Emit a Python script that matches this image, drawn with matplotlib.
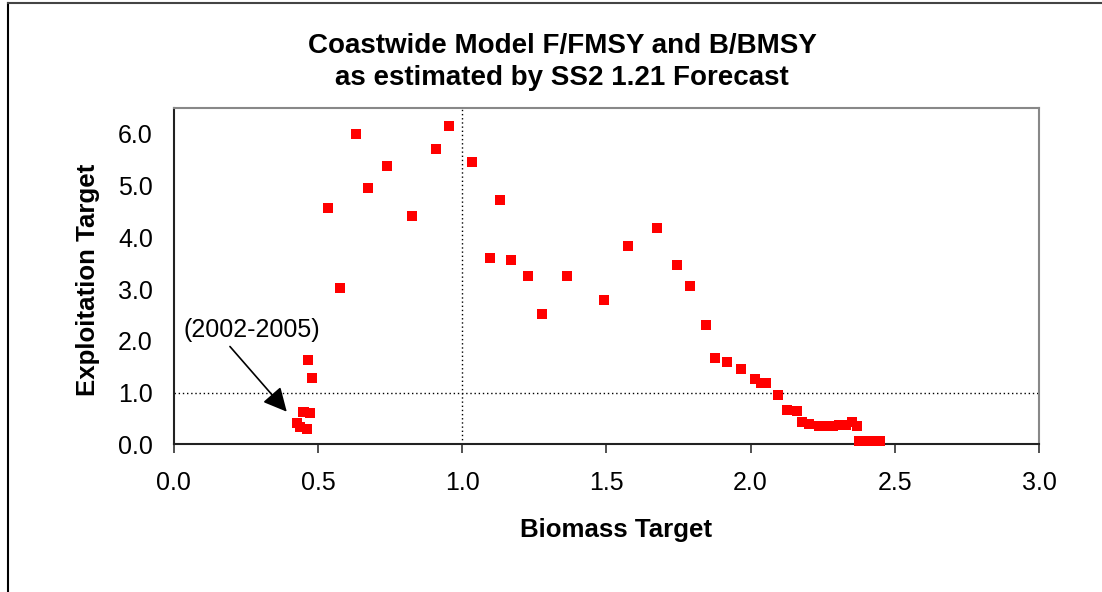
import matplotlib
matplotlib.use("Agg")
import matplotlib.pyplot as plt
from matplotlib.lines import Line2D

plt.rcParams['font.family'] = ['Liberation Sans', 'DejaVu Sans']

biomass = [0.429, 0.438, 0.462, 0.450, 0.474, 0.467, 0.480, 0.534, 0.577, 0.632,
           0.675, 0.741, 0.827, 0.911, 0.955, 1.033, 1.095, 1.131, 1.168, 1.228,
           1.278, 1.362, 1.491, 1.576, 1.674, 1.746, 1.789, 1.844, 1.875, 1.917,
           1.966, 2.014, 2.036, 2.055, 2.094, 2.126, 2.161, 2.180, 2.203, 2.238,
           2.261, 2.285, 2.308, 2.331, 2.351, 2.369, 2.375, 2.390, 2.405, 2.420,
           2.435, 2.450]
exploitation = [0.41, 0.34, 0.30, 0.63, 0.61, 1.63, 1.29, 4.56, 3.02, 5.99,
                4.96, 5.38, 4.42, 5.71, 6.16, 5.45, 3.61, 4.73, 3.57, 3.26,
                2.52, 3.26, 2.79, 3.84, 4.19, 3.47, 3.06, 2.31, 1.66, 1.60,
                1.46, 1.26, 1.19, 1.19, 0.95, 0.67, 0.65, 0.43, 0.39, 0.35,
                0.35, 0.35, 0.37, 0.37, 0.43, 0.35, 0.06, 0.06, 0.06, 0.06,
                0.06, 0.06]

x_ticks = [0.0, 0.5, 1.0, 1.5, 2.0, 2.5, 3.0]
y_ticks = [0.0, 1.0, 2.0, 3.0, 4.0, 5.0, 6.0]

title_lines = ["Coastwide Model F/FMSY and B/BMSY", "as estimated by SS2 1.21 Forecast"]
annot_text = "(2002-2005)"

W, H = 1102, 592
fig = plt.figure(figsize=(W / 100, H / 100), dpi=100)
ax = fig.add_axes([173.7 / W, 1 - 444.3 / H, (1039 - 173.7) / W, (444.3 - 108) / H])

ax.set_xlim(0, 3.0)
ax.set_ylim(0, 6.5)

ax.axhline(1.0, color='black', linestyle=(0, (1, 2)), lw=1.0, zorder=1)
ax.axvline(1.0, color='black', linestyle=(0, (1, 2)), lw=1.0, zorder=1)

ax.scatter(biomass, exploitation, marker='s', s=52, color='#ff0000',
           edgecolors='none', zorder=3, clip_on=False)

ax.set_xticks(x_ticks)
ax.set_xticklabels([f"{v:.1f}" for v in x_ticks], fontsize=18)
ax.set_yticks(y_ticks)
ax.set_yticklabels([f"{v:.1f}" for v in y_ticks], fontsize=18)
ax.tick_params(axis='x', direction='out', length=6.5, width=1.2, pad=13, color='#333333')
ax.tick_params(axis='y', length=0, pad=15)

for side in ['left', 'bottom']:
    ax.spines[side].set_color('#222222')
    ax.spines[side].set_linewidth(1.5)
for side in ['top', 'right']:
    ax.spines[side].set_color('#888888')
    ax.spines[side].set_linewidth(1.5)

ax.text(0.272, 2.21, annot_text, fontsize=18, ha='center', va='center')
ax.annotate("", xy=(0.392, 0.63), xytext=(0.195, 1.89),
            arrowprops=dict(arrowstyle='-|>,head_length=0.6,head_width=0.3',
                            color='black', lw=1.2,
                            mutation_scale=24, shrinkA=0, shrinkB=0))

fig.text(562 / W, 1 - 46 / H, title_lines[0], ha='center', va='center',
         fontsize=20, fontweight='bold')
fig.text(562 / W, 1 - 78 / H, title_lines[1], ha='center', va='center',
         fontsize=20, fontweight='bold')
fig.text(616 / W, 1 - 530 / H, "Biomass Target", ha='center', va='center',
         fontsize=18.6, fontweight='bold')
fig.text(88 / W, 1 - 280 / H, "Exploitation Target", ha='center', va='center',
         fontsize=18.6, fontweight='bold', rotation=90)

# outer chart border (left and top)
fig.add_artist(Line2D([7.5 / W, 7.5 / W], [0, 1 - 3 / H], transform=fig.transFigure,
                      color='black', lw=1.5))
fig.add_artist(Line2D([7.5 / W, 1], [1 - 3 / H, 1 - 3 / H], transform=fig.transFigure,
                      color='#444444', lw=1.5))

fig.savefig("out.png", dpi=100)
